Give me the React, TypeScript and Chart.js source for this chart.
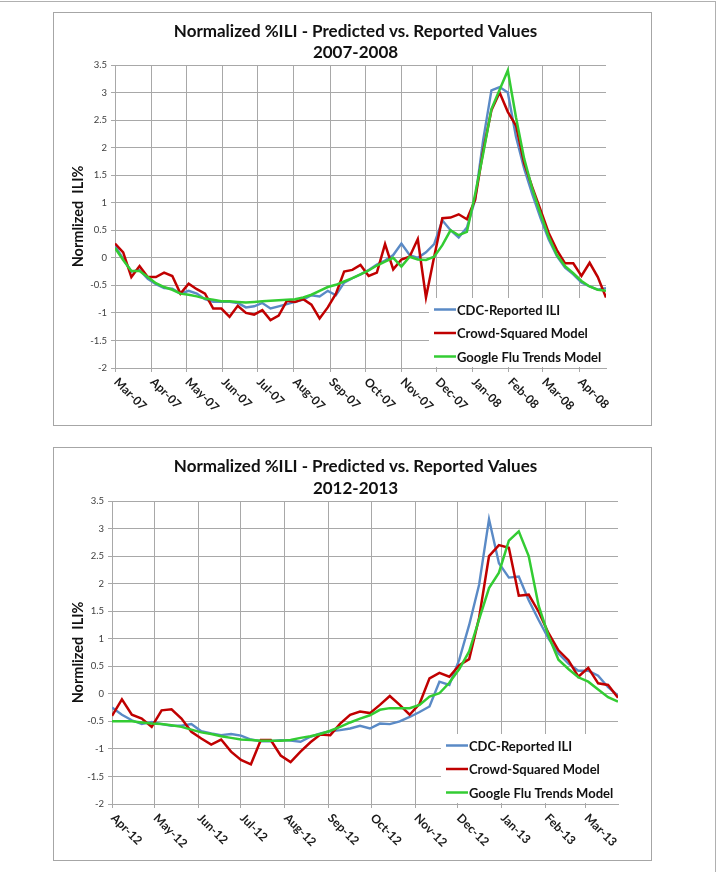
import React, { useEffect, useRef } from "react";
import { Chart, registerables } from "chart.js";

Chart.register(...registerables);

const FONT = "Lato, 'Open Sans', 'DejaVu Sans', sans-serif";
const GRID = "#A8A8A8";

const TITLE_LINE_1 = "Normalized %ILI - Predicted vs. Reported Values";
const Y_TITLE = "Normlized  ILI%";
const SERIES_NAMES = ["CDC-Reported ILI", "Crowd-Squared Model", "Google Flu Trends Model"];
const SERIES_COLORS = ["#5A8AC6", "#C00000", "#33CC33"];

// ---- 2007-2008 (weekly, starting Mar 2007)
const months1 = ["Mar-07", "Apr-07", "May-07", "Jun-07", "Jul-07", "Aug-07", "Sep-07", "Oct-07", "Nov-07", "Dec-07", "Jan-08", "Feb-08", "Mar-08", "Apr-08"];
const cdc1 = [
  0.22, -0.02, -0.25, -0.22, -0.38, -0.48, -0.55, -0.56, -0.65, -0.6,
  -0.65, -0.75, -0.8, -0.8, -0.8, -0.82, -0.9, -0.88, -0.82, -0.92,
  -0.88, -0.84, -0.8, -0.76, -0.68, -0.7, -0.6, -0.68, -0.45, -0.37,
  -0.3, -0.22, -0.12, -0.05, 0.05, 0.26, 0.05, 0.0, 0.1, 0.25,
  0.68, 0.5, 0.37, 0.55, 1.05, 2.15, 3.04, 3.1, 3.0, 2.2,
  1.62, 1.15, 0.72, 0.33, 0.03, -0.18, -0.3, -0.45, -0.52, -0.58,
  -0.55,
];
const crowd1 = [
  0.26, 0.1, -0.35, -0.15, -0.35, -0.35, -0.27, -0.33, -0.65, -0.47,
  -0.57, -0.65, -0.92, -0.92, -1.07, -0.87, -1.0, -1.03, -0.95, -1.13,
  -1.05, -0.78, -0.8, -0.75, -0.85, -1.1, -0.9, -0.65, -0.25, -0.22,
  -0.13, -0.33, -0.27, 0.25, -0.21, -0.03, 0.02, 0.34, -0.72, 0.02,
  0.72, 0.73, 0.79, 0.7, 1.05, 1.95, 2.68, 3.0, 2.65, 2.4,
  1.72, 1.28, 0.87, 0.45, 0.14, -0.1, -0.1, -0.33, -0.09, -0.35,
  -0.72,
];
const gft1 = [
  0.18, -0.04, -0.24, -0.24, -0.35, -0.46, -0.53, -0.58, -0.65, -0.67,
  -0.7, -0.74, -0.76, -0.79, -0.79, -0.8, -0.81, -0.8, -0.79, -0.78,
  -0.77, -0.76, -0.75, -0.72, -0.67, -0.6, -0.53, -0.49, -0.43, -0.37,
  -0.3, -0.23, -0.14, -0.07, 0.0, -0.16, 0.02, -0.03, -0.04, 0.02,
  0.23, 0.5, 0.41, 0.47, 1.15, 1.9, 2.7, 3.05, 3.4, 2.55,
  1.8, 1.25, 0.8, 0.38, 0.05, -0.15, -0.28, -0.42, -0.52, -0.58,
  -0.6,
];

// ---- 2012-2013 (weekly, starting Apr 2012)
const months2 = ["Apr-12", "May-12", "Jun-12", "Jul-12", "Aug-12", "Sep-12", "Oct-12", "Nov-12", "Dec-12", "Jan-13", "Feb-13", "Mar-13"];
const cdc2 = [
  -0.25, -0.38, -0.48, -0.55, -0.51, -0.55, -0.58, -0.58, -0.55, -0.68,
  -0.72, -0.75, -0.73, -0.76, -0.83, -0.86, -0.86, -0.84, -0.85, -0.87,
  -0.78, -0.72, -0.68, -0.66, -0.63, -0.58, -0.63, -0.54, -0.55, -0.5,
  -0.42, -0.33, -0.23, 0.22, 0.16, 0.62, 1.25, 1.98, 3.17, 2.37,
  2.11, 2.13, 1.7, 1.34, 1.0, 0.73, 0.55, 0.42, 0.42, 0.33,
  0.12, -0.03,
];
const crowd2 = [
  -0.4, -0.1, -0.38, -0.45, -0.6, -0.3, -0.28, -0.45, -0.69, -0.81,
  -0.92, -0.83, -1.05, -1.2, -1.28, -0.84, -0.84, -1.12, -1.24, -1.05,
  -0.88, -0.74, -0.75, -0.54, -0.38, -0.32, -0.35, -0.2, -0.04, -0.2,
  -0.38, -0.18, 0.28, 0.38, 0.31, 0.52, 0.63, 1.38, 2.5, 2.7,
  2.65, 1.78, 1.8, 1.49, 1.1, 0.79, 0.61, 0.31, 0.47, 0.19,
  0.16, -0.07,
];
const gft2 = [
  -0.5, -0.5, -0.5, -0.52, -0.54, -0.55, -0.57, -0.6, -0.65, -0.7,
  -0.73, -0.77, -0.8, -0.83, -0.84, -0.85, -0.85, -0.85, -0.84, -0.8,
  -0.77, -0.73, -0.67, -0.6, -0.52, -0.45, -0.39, -0.29, -0.26, -0.26,
  -0.26, -0.2, -0.05, 0.01, 0.2, 0.45, 0.77, 1.35, 1.92, 2.2,
  2.78, 2.95, 2.5, 1.6, 1.05, 0.62, 0.45, 0.3, 0.22, 0.08,
  -0.06, -0.14,
];

const Y_MIN = -2;
const Y_MAX = 3.5;
const Y_STEP = 0.5;

interface Cfg {
  subtitle: string;
  months: string[];
  startYear: number;
  startMonth: number;
  cdc: number[];
  crowd: number[];
  gft: number[];
  top: number;
  yAxisWidth: number;
  xAxisHeight: number;
  padRight: number;
  padTop: number;
  titleY: number;
}

const CANVAS_W = 597;
const CANVAS_H = 412;

function FluChart({ cfg }: { cfg: Cfg }) {
  const ref = useRef<HTMLCanvasElement>(null);
  useEffect(() => {
    const canvas = ref.current!;
    const base = Date.UTC(cfg.startYear, cfg.startMonth, 1);
    const tickDays = cfg.months.map((_, k) => (Date.UTC(cfg.startYear, cfg.startMonth + k, 1) - base) / 86400000);
    const mk = (vals: number[]) => vals.map((v, i) => ({ x: i * 7, y: v }));

    const titlePlugin = {
      id: "twoLineTitle",
      afterDraw(chart: any) {
        const ctx = chart.ctx;
        ctx.save();
        ctx.font = `bold 17px ${FONT}`;
        ctx.fillStyle = "#111111";
        ctx.textAlign = "center";
        ctx.textBaseline = "middle";
        const cx = chart.width / 2 + 3;
        ctx.fillText(TITLE_LINE_1, cx, cfg.titleY);
        ctx.fillText(cfg.subtitle, cx, cfg.titleY + 21.5);
        ctx.restore();
      },
    };

    const xLabels = {
      id: "xLabels",
      afterDraw(chart: any) {
        const s = chart.scales.x;
        const ctx = chart.ctx;
        ctx.save();
        ctx.font = `bold 12px ${FONT}`;
        ctx.fillStyle = "#1A1A1A";
        ctx.textAlign = "left";
        ctx.textBaseline = "middle";
        s.ticks.forEach((t: any, k: number) => {
          const x = s.getPixelForValue(t.value);
          ctx.save();
          ctx.translate(x + 1, s.top + 12);
          ctx.rotate(Math.PI / 4);
          ctx.fillText(cfg.months[k] ?? "", 0, 0);
          ctx.restore();
        });
        ctx.restore();
      },
    };

    const innerLegend = {
      id: "innerLegend",
      afterDraw(chart: any) {
        const { ctx, chartArea: a } = chart;
        const w = 177;
        const h = 70;
        const left = a.right - w;
        const top = a.bottom - h;
        ctx.save();
        ctx.fillStyle = "#FFFFFF";
        ctx.fillRect(left, top, w, h - 1);
        ctx.font = `bold 13px ${FONT}`;
        ctx.textAlign = "left";
        ctx.textBaseline = "middle";
        chart.data.datasets.forEach((ds: any, k: number) => {
          const y = top + 11.5 + k * 23.5;
          ctx.strokeStyle = ds.borderColor;
          ctx.lineWidth = 2.5;
          ctx.beginPath();
          ctx.moveTo(left + 5, y);
          ctx.lineTo(left + 27, y);
          ctx.stroke();
          ctx.fillStyle = "#111111";
          ctx.fillText(ds.label, left + 28, y + 1);
        });
        ctx.restore();
      },
    };

    const chart = new Chart(canvas, {
      type: "line",
      data: {
        datasets: [
          { label: SERIES_NAMES[0], data: mk(cfg.cdc), borderColor: SERIES_COLORS[0], backgroundColor: SERIES_COLORS[0], borderWidth: 2.4, pointRadius: 0, tension: 0, order: 3 },
          { label: SERIES_NAMES[1], data: mk(cfg.crowd), borderColor: SERIES_COLORS[1], backgroundColor: SERIES_COLORS[1], borderWidth: 2.5, pointRadius: 0, tension: 0, order: 2 },
          { label: SERIES_NAMES[2], data: mk(cfg.gft), borderColor: SERIES_COLORS[2], backgroundColor: SERIES_COLORS[2], borderWidth: 2.5, pointRadius: 0, tension: 0, order: 1 },
        ],
      },
      options: {
        animation: false,
        responsive: false,
        devicePixelRatio: 1,
        layout: { padding: { top: cfg.padTop, right: cfg.padRight, bottom: 0, left: 0 } },
        plugins: {
          legend: { display: false },
          tooltip: { enabled: false },
          title: { display: false },
        },
        scales: {
          x: {
            type: "linear",
            min: 0,
            max: (cfg.cdc.length - 1) * 7,
            afterBuildTicks: (s: any) => {
              s.ticks = tickDays.map((v) => ({ value: v }));
            },
            afterFit: (s: any) => {
              s.height = cfg.xAxisHeight;
            },
            ticks: { display: false },
            grid: { color: GRID, lineWidth: 1, drawTicks: true, tickLength: 4, tickColor: GRID },
            border: { color: GRID, width: 1 },
          },
          y: {
            min: Y_MIN,
            max: Y_MAX,
            afterFit: (s: any) => {
              s.width = cfg.yAxisWidth;
            },
            ticks: {
              stepSize: Y_STEP,
              color: "#404040",
              font: { family: FONT, size: 9.5 },
              padding: 4,
              callback: (v: any) => String(Number(Number(v).toFixed(1))),
            },
            grid: { color: GRID, lineWidth: 1, drawTicks: true, tickLength: 4, tickColor: GRID },
            border: { color: GRID, width: 1 },
            title: {
              display: true,
              text: Y_TITLE,
              color: "#111111",
              font: { family: FONT, size: 14.5, weight: "bold" },
              padding: { top: 16, bottom: 0 },
            },
          },
        },
      },
      plugins: [xLabels, innerLegend, titlePlugin],
    } as any);
    return () => chart.destroy();
  }, [cfg]);

  return (
    <div
      style={{
        position: "absolute",
        left: 53,
        top: cfg.top,
        width: 599,
        height: 414,
        boxSizing: "border-box",
        border: "1px solid #A6A6A6",
        background: "#FFFFFF",
      }}
    >
      <canvas ref={ref} width={CANVAS_W} height={CANVAS_H} style={{ display: "block", width: CANVAS_W, height: CANVAS_H }} />
    </div>
  );
}

const cfg1: Cfg = {
  subtitle: "2007-2008",
  months: months1,
  startYear: 2007,
  startMonth: 2,
  cdc: cdc1,
  crowd: crowd1,
  gft: gft1,
  top: 12,
  yAxisWidth: 61,
  xAxisHeight: 57,
  padRight: 45,
  padTop: 52,
  titleY: 18.5,
};

const cfg2: Cfg = {
  subtitle: "2012-2013",
  months: months2,
  startYear: 2012,
  startMonth: 3,
  cdc: cdc2,
  crowd: crowd2,
  gft: gft2,
  top: 447,
  yAxisWidth: 58,
  xAxisHeight: 56,
  padRight: 33,
  padTop: 53,
  titleY: 19,
};

export default function App() {
  return (
    <div style={{ position: "absolute", left: 0, top: 0, width: 716, height: 872, background: "#FFFFFF", overflow: "hidden" }}>
      <div
        style={{
          position: "absolute",
          left: 0,
          top: 1,
          width: 716,
          height: 871,
          boxSizing: "border-box",
          borderTop: "1px solid #B0B0B0",
          borderRight: "1px solid #B0B0B0",
        }}
      />
      <FluChart cfg={cfg1} />
      <FluChart cfg={cfg2} />
    </div>
  );
}
